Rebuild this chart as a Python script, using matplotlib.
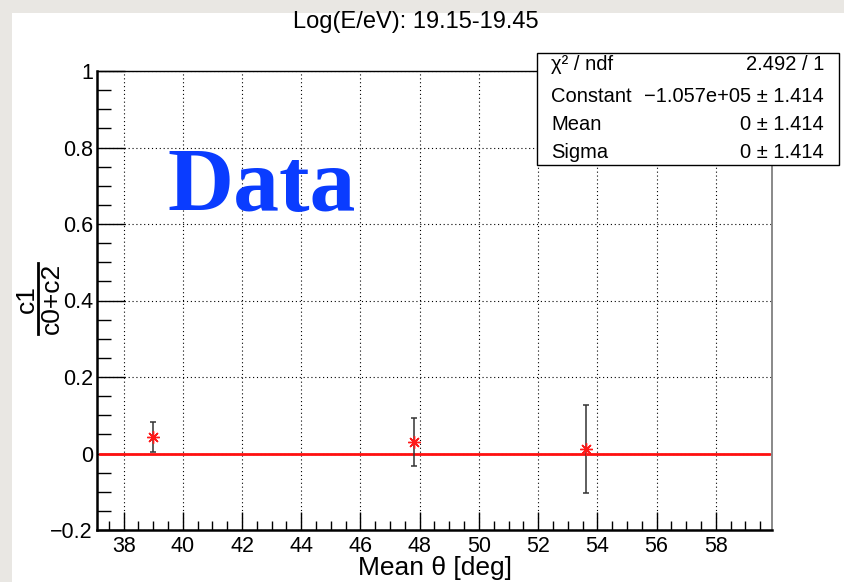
import numpy as np
import matplotlib
matplotlib.use('Agg')
import matplotlib.pyplot as plt
from matplotlib.patches import Rectangle
from matplotlib.lines import Line2D
from matplotlib.ticker import MultipleLocator, FixedLocator, FuncFormatter

# data
theta = [39.0, 47.82, 53.62]
ratio = [0.043, 0.031, 0.012]
ratio_err = [0.039, 0.063, 0.116]

# fitted constant (drawn over the fit range)
fit_x = [37.2, 59.8]
fit_y = [0.0, 0.0]

x_ticks = [38, 40, 42, 44, 46, 48, 50, 52, 54, 56, 58]
y_ticks = [-0.2, 0.0, 0.2, 0.4, 0.6, 0.8, 1.0]

stats_names = ['χ² / ndf', 'Constant', 'Mean', 'Sigma']
stats_values = ['2.492 / 1', '\u22121.057e+05 \u00b1 1.414', '0 \u00b1 1.414', '0 \u00b1 1.414']

plt.rcParams['font.family'] = ['Liberation Sans', 'DejaVu Sans']

W, H = 844, 582
fig = plt.figure(figsize=(W / 100, H / 100), dpi=100)
fig.patch.set_facecolor('white')

# grey screenshot border (top and left)
fig.patches.append(Rectangle((0, 1 - 13 / H), 1, 13 / H, transform=fig.transFigure,
                             facecolor='#e9e7e3', edgecolor='none', zorder=0))
fig.patches.append(Rectangle((0, 0), 12 / W, 1, transform=fig.transFigure,
                             facecolor='#e9e7e3', edgecolor='none', zorder=0))

ax = fig.add_axes([97 / W, 1 - 530 / H, (772 - 97) / W, (530 - 71) / H])
ax.set_xlim(37.1, 59.9)
ax.set_ylim(-0.2, 1.0)

# grid
ax.set_axisbelow(True)
ax.grid(True, which='major', color='black', linestyle=(0, (1, 2.5)), linewidth=0.8)

# fit line and points
ax.plot(fit_x, fit_y, color='#ff1010', linewidth=2.0, zorder=3)
ax.errorbar(theta, ratio, yerr=ratio_err, fmt='none', ecolor='#333333',
            elinewidth=1.1, capsize=2.5, capthick=1.1, zorder=4)
ax.plot(theta, ratio, linestyle='none', marker=(8, 2, 0), markersize=9,
        markeredgewidth=1.0, color='#ff1a1a', zorder=5)

# "Data" tag
ax.text(167 / W, 1 - 211 / H, 'Data', transform=fig.transFigure, family='Liberation Serif',
        fontweight='bold', fontsize=66, color='#0a3cff', ha='left', va='baseline', zorder=6)

# ticks
ax.xaxis.set_major_locator(FixedLocator(x_ticks))
ax.xaxis.set_minor_locator(MultipleLocator(0.5))
ax.yaxis.set_major_locator(FixedLocator(y_ticks))
ax.yaxis.set_minor_locator(MultipleLocator(0.05))


def yfmt(v, pos):
    s = ('%.1f' % v).rstrip('0').rstrip('.')
    if s in ('-0', '0.'):
        s = '0'
    return s.replace('-', '\u2212')


ax.yaxis.set_major_formatter(FuncFormatter(yfmt))
ax.xaxis.set_major_formatter(FuncFormatter(lambda v, p: '%d' % v))
ax.tick_params(axis='both', which='both', direction='in', top=False, right=False,
               labelsize=15.5, colors='black')
ax.tick_params(axis='x', which='major', length=13, width=1.0, pad=4)
ax.tick_params(axis='x', which='minor', length=6.5, width=1.0)
ax.tick_params(axis='y', which='major', length=20, width=1.0, pad=3)
ax.tick_params(axis='y', which='minor', length=10, width=1.0)

for side in ('left', 'bottom'):
    ax.spines[side].set_linewidth(1.8)
    ax.spines[side].set_color('black')
ax.spines['top'].set_linewidth(1.0)
ax.spines['top'].set_color('black')
ax.spines['right'].set_linewidth(1.3)
ax.spines['right'].set_color('#808080')

# titles
fig.text(416 / W, 1 - 22 / H, 'Log(E/eV): 19.15-19.45', ha='center', va='center', fontsize=17)
fig.text(435 / W, 1 - 568 / H, 'Mean \u03b8 [deg]', ha='center', va='center', fontsize=19)

# y title as a fraction c1 / (c0+c2)
fig.text(27 / W, 1 - 299 / H, 'c1', rotation=90, ha='center', va='center', fontsize=19)
fig.text(52 / W, 1 - 298 / H, 'c0+c2', rotation=90, ha='center', va='center', fontsize=19)
fig.lines.append(Line2D([38 / W, 38 / W], [1 - 334 / H, 1 - 263 / H], transform=fig.transFigure,
                        color='black', linewidth=2.0))

# stats box
fig.patches.append(Rectangle((537 / W, 1 - 165 / H), (839 - 537) / W, (165 - 53) / H,
                             transform=fig.transFigure, facecolor='white',
                             edgecolor='black', linewidth=1.0, zorder=5))
row_y = [65, 96, 125, 152]
for name, val, yy in zip(stats_names, stats_values, row_y):
    fig.text(551 / W, 1 - yy / H, name, ha='left', va='center', fontsize=14.5, zorder=6)
    fig.text(824 / W, 1 - yy / H, val, ha='right', va='center', fontsize=14.5, zorder=6)

fig.savefig('out.png', dpi=100)
